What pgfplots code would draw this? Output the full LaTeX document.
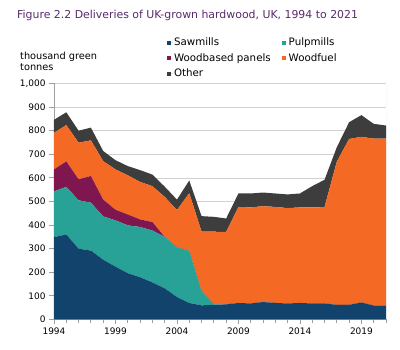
\documentclass[border=0pt]{standalone}
\usepackage{fontspec}
\setmainfont{DejaVu Sans}
\usepackage{pgfplots}
\pgfplotsset{compat=1.18}
\definecolor{saw}{HTML}{12436D}
\definecolor{pulp}{HTML}{28A197}
\definecolor{panel}{HTML}{801650}
\definecolor{fuel}{HTML}{F46A25}
\definecolor{other}{HTML}{3D3D3D}
\definecolor{titlec}{RGB}{88,44,108}
\begin{document}
\begin{tikzpicture}
\path[use as bounding box] (0,0) rectangle (400bp,350bp);
\node[anchor=west, text=titlec, font=\fontsize{10.95}{13}\selectfont, inner sep=0] at (17bp,335bp) {Figure 2.2 Deliveries of UK-grown hardwood, UK, 1994 to 2021};
\node[anchor=north west, align=left, font=\fontsize{9.8}{11}\selectfont, inner sep=0] at (20bp,298.5bp) {thousand green\\tonnes};
\begin{axis}[
  at={(54bp,30.5bp)}, anchor=south west,
  scale only axis, width=332bp, height=236bp,
  xmin=1994, xmax=2021, ymin=0, ymax=1000,
  stack plots=y,
  axis x line*=bottom, axis y line*=left,
  axis line style={draw=gray!75, line width=0.8bp, -},
  tick style={draw=gray!75, line width=0.8bp},
  tick align=outside,
  major tick length=5bp, minor tick length=4bp,
  xtick={1994,1999,2004,2009,2014,2019},
  minor xtick={1994,...,2021},
  ytick={0,100,...,1000},
  ymajorgrids, grid style={draw=gray!35, line width=0.7bp},
  /pgf/number format/assume math mode=true,
  ticklabel style={font=\fontsize{9}{11}\selectfont},
  xticklabel style={/pgf/number format/1000 sep={}},
  yticklabel style={/pgf/number format/1000 sep={,}},
  legend columns=2,
  legend cell align=left,
  legend image code/.code={\fill[#1] (0bp,-2bp) rectangle (4bp,2bp); \path (0bp,0bp) -- (6bp,0bp);},
  legend style={at={(0.331,1.2076)}, anchor=north west, draw=none, fill=none,
    font=\fontsize{10.3}{12}\selectfont, row sep=3bp,
    /tikz/every even column/.append style={column sep=10bp},
    nodes={inner sep=1bp, text height=8bp, text depth=2.5bp}},
]
\addplot[fill=saw, draw=none] coordinates {
(1994,349) (1995,360) (1996,300) (1997,292) (1998,253) (1999,224) (2000,196)
(2001,179) (2002,157) (2003,132) (2004,95) (2005,70) (2006,60) (2007,62)
(2008,64) (2009,70) (2010,68) (2011,74) (2012,70) (2013,68) (2014,70)
(2015,68) (2016,68) (2017,62) (2018,62) (2019,72) (2020,59) (2021,59)} \closedcycle;
\addlegendentry{Sawmills}
\addplot[fill=pulp, draw=none] coordinates {
(1994,194) (1995,202) (1996,205) (1997,203) (1998,184) (1999,196) (2000,203)
(2001,213) (2002,220) (2003,218) (2004,211) (2005,221) (2006,60) (2007,2)
(2008,0) (2009,0) (2010,0) (2011,0) (2012,0) (2013,0) (2014,0)
(2015,0) (2016,0) (2017,0) (2018,0) (2019,0) (2020,0) (2021,0)} \closedcycle;
\addlegendentry{Pulpmills}
\addplot[fill=panel, draw=none] coordinates {
(1994,93) (1995,108) (1996,89) (1997,113) (1998,71) (1999,45) (2000,46)
(2001,32) (2002,36) (2003,0) (2004,0) (2005,0) (2006,0) (2007,0)
(2008,0) (2009,0) (2010,0) (2011,0) (2012,0) (2013,0) (2014,0)
(2015,0) (2016,0) (2017,0) (2018,0) (2019,0) (2020,0) (2021,0)} \closedcycle;
\addlegendentry{Woodbased panels}
\addplot[fill=fuel, draw=none] coordinates {
(1994,155) (1995,154) (1996,155) (1997,151) (1998,163) (1999,171) (2000,166)
(2001,159) (2002,152) (2003,170) (2004,158) (2005,244) (2006,252) (2007,308)
(2008,307) (2009,407) (2010,407) (2011,406) (2012,407) (2013,404) (2014,405)
(2015,407) (2016,408) (2017,607) (2018,703) (2019,702) (2020,707) (2021,707)} \closedcycle;
\addlegendentry{Woodfuel}
\addplot[fill=other, draw=none] coordinates {
(1994,55) (1995,54) (1996,51) (1997,54) (1998,43) (1999,39) (2000,39)
(2001,50) (2002,49) (2003,43) (2004,44) (2005,54) (2006,66) (2007,63)
(2008,57) (2009,57) (2010,59) (2011,58) (2012,57) (2013,58) (2014,59)
(2015,90) (2016,116) (2017,61) (2018,71) (2019,92) (2020,63) (2021,56)} \closedcycle;
\addlegendentry{Other}
\draw[gray!30, line width=0.7bp] (rel axis cs:1,0) -- (rel axis cs:1,1);
\end{axis}
\end{tikzpicture}
\end{document}
